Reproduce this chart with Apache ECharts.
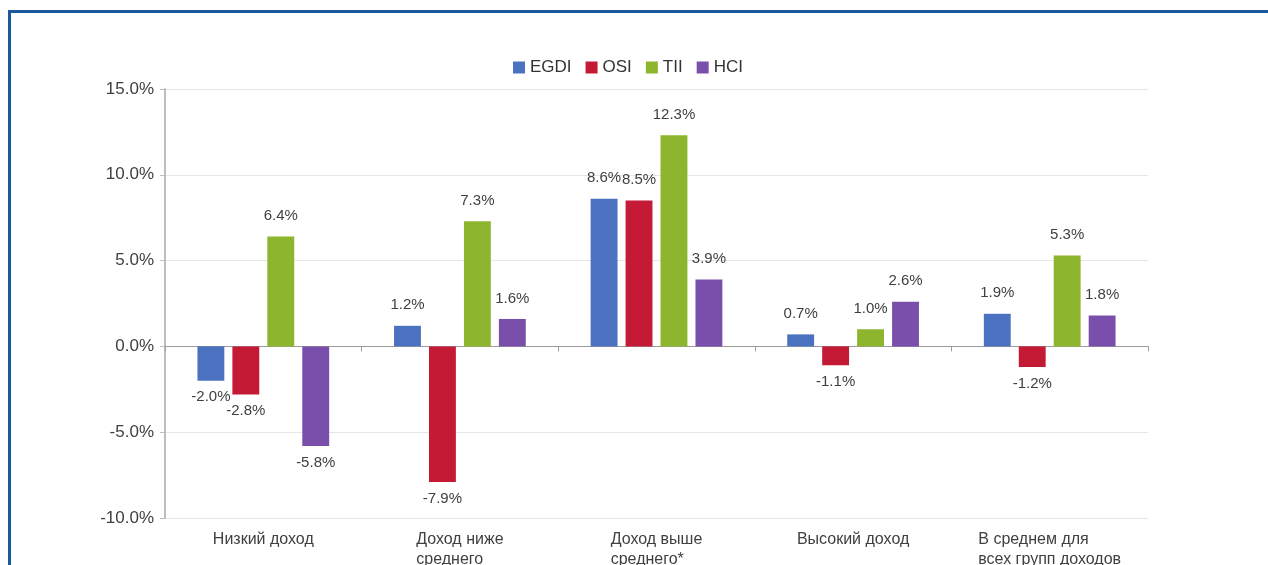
<!DOCTYPE html>
<html>
<head>
<meta charset="utf-8">
<script src="https://cdn.jsdelivr.net/npm/echarts@6/dist/echarts.min.js"></script>
<style>
  html, body { margin: 0; padding: 0; background: #fff; overflow: hidden; }
  #frame {
    position: absolute; left: 8px; top: 10px; width: 1300px; height: 600px;
    border-top: 3px solid #1a5a9c; border-left: 3px solid #1a5a9c;
  }
  #chart { position: absolute; left: 0; top: 0; width: 1268px; height: 565px; }
</style>
</head>
<body>
<div id="frame"></div>
<div id="chart"></div>
<script>
// категории доходов
const categories = [
  "Низкий доход",
  "Доход ниже\nсреднего",
  "Доход выше\nсреднего*",
  "Высокий доход",
  "В среднем для\nвсех групп доходов",
];
const seriesNames = ["EGDI", "OSI", "TII", "HCI"];
const egdi = [-2.0, 1.2, 8.6, 0.7, 1.9];
const osi = [-2.8, -7.9, 8.5, -1.1, -1.2];
const tii = [6.4, 7.3, 12.3, 1.0, 5.3];
const hci = [-5.8, 1.6, 3.9, 2.6, 1.8];
const colors = ["#4a72c0", "#c41a36", "#8db52e", "#7a4fab"];
const yTicks = { min: -10, max: 15, interval: 5 };

document.addEventListener("DOMContentLoaded", function () {
  const chart = echarts.init(document.getElementById("chart"));
  const textColor = "#404040";
  const font = "Liberation Sans, Arial, sans-serif";

  function makeSeries(name, values, color) {
    return {
      name: name,
      type: "bar",
      xAxisIndex: 0,
      barGap: "30%",
      barCategoryGap: "33%",
      itemStyle: { color: color },
      data: values.map(function (v) {
        return {
          value: v,
          label: {
            show: true,
            position: v < 0 ? "bottom" : "top",
            distance: v < 0 ? 9 : 13,
            formatter: v.toFixed(1) + "%",
            color: textColor,
            fontSize: 15,
            fontFamily: font,
          },
        };
      }),
    };
  }

  const option = {
    animation: false,
    color: colors,
    legend: {
      top: 54,
      left: 508,
      itemWidth: 12,
      itemHeight: 12,
      itemGap: 14,
      icon: "rect",
      textStyle: { color: "#333", fontSize: 17, fontFamily: font },
      data: seriesNames,
    },
    grid: {
      left: 165,
      right: 120,
      top: 89,
      bottom: 47,
      containLabel: false,
      outerBoundsMode: "none",
    },
    xAxis: [
      {
        type: "category",
        data: categories,
        axisLine: { onZero: true, lineStyle: { color: "#9a9a9a" } },
        axisTick: { show: true, length: 5, lineStyle: { color: "#9a9a9a" } },
        axisLabel: { show: false },
        splitLine: { show: false },
      },
      {
        type: "category",
        data: categories,
        position: "bottom",
        axisLine: { show: false, onZero: false },
        axisTick: { show: false },
        axisLabel: {
          margin: 12,
          interval: 0,
          formatter: function (val) {
            return val
              .split("\n")
              .map(function (s) {
                return "{l|" + s + "}";
              })
              .join("\n");
          },
          rich: {
            l: {
              align: "left",
              color: textColor,
              fontSize: 16,
              fontFamily: font,
              lineHeight: 20,
            },
          },
        },
      },
    ],
    yAxis: {
      type: "value",
      min: yTicks.min,
      max: yTicks.max,
      interval: yTicks.interval,
      axisLine: { show: true, lineStyle: { color: "#bdbdbd", width: 2 } },
      axisTick: { show: true, length: 5, lineStyle: { color: "#bdbdbd" } },
      axisLabel: {
        color: textColor,
        fontSize: 17,
        fontFamily: font,
        margin: 11,
        formatter: function (v) {
          return v.toFixed(1) + "%";
        },
      },
      splitLine: { lineStyle: { color: "#e6e6e6" } },
    },
    series: [
      makeSeries(seriesNames[0], egdi, colors[0]),
      makeSeries(seriesNames[1], osi, colors[1]),
      makeSeries(seriesNames[2], tii, colors[2]),
      makeSeries(seriesNames[3], hci, colors[3]),
    ],
  };
  chart.setOption(option);
  window.addEventListener("resize", function () {
    chart.resize();
  });
});
</script>
</body>
</html>
